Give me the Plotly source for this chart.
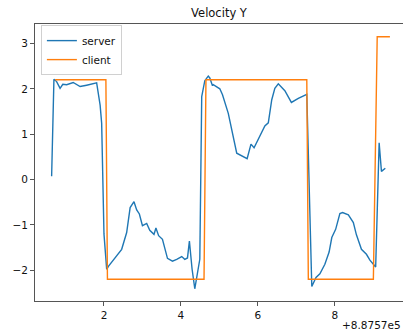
import plotly.graph_objects as go

OFFSET = 887570.0

server_t = [0.64, 0.70, 0.77, 0.86, 0.93, 1.03, 1.20, 1.38, 1.55, 1.81, 1.90, 1.94, 2.00, 2.07,
            2.12, 2.33, 2.46, 2.59, 2.68, 2.78, 2.85, 2.92, 3.00, 3.11, 3.19, 3.30, 3.35, 3.42,
            3.52, 3.65, 3.78, 3.89, 4.02, 4.10, 4.17, 4.22, 4.29, 4.36, 4.49, 4.54, 4.62, 4.71,
            4.75, 4.82, 4.84, 5.01, 5.08, 5.23, 5.36, 5.45, 5.72, 5.82, 5.90, 6.05, 6.18, 6.27,
            6.36, 6.44, 6.53, 6.70, 6.87, 7.05, 7.27, 7.40, 7.51, 7.61, 7.74, 7.85, 7.92, 8.02,
            8.13, 8.20, 8.35, 8.48, 8.56, 8.69, 8.82, 8.91, 9.01, 9.06, 9.15, 9.21, 9.31]
server_v = [0.07, 2.21, 2.16, 2.01, 2.10, 2.09, 2.14, 2.05, 2.08, 2.13, 1.64, 1.24, -1.20, -1.98,
            -1.91, -1.69, -1.54, -1.17, -0.62, -0.49, -0.67, -0.76, -1.02, -0.97, -1.12, -1.21, -1.07, -1.24,
            -1.32, -1.74, -1.80, -1.76, -1.70, -1.76, -1.73, -1.36, -1.98, -2.41, -1.76, 1.83, 2.18, 2.28,
            2.24, 2.07, 2.09, 2.00, 1.87, 1.46, 0.90, 0.58, 0.46, 0.78, 0.70, 0.94, 1.18, 1.25,
            1.76, 2.01, 2.11, 1.96, 1.70, 1.79, 1.88, -2.36, -2.16, -2.08, -1.87, -1.60, -1.28, -1.10,
            -0.75, -0.73, -0.78, -0.95, -1.22, -1.54, -1.65, -1.78, -1.87, -1.93, 0.81, 0.18, 0.25]

client_t = [0.73, 2.05, 2.09, 4.60, 4.65, 7.27, 7.31, 9.00, 9.10, 9.43]
client_v = [2.2, 2.2, -2.2, -2.2, 2.2, 2.2, -2.2, -2.2, 3.15, 3.15]

tick_vals = [2, 4, 6, 8]
tick_text = ["2", "4", "6", "8"]
y_ticks = [-2, -1, 0, 1, 2, 3]
y_text = ["\u22122", "\u22121", "0", "1", "2", "3"]

FONT = "DejaVu Sans"

fig = go.Figure()
fig.add_trace(go.Scatter(x=[OFFSET + t for t in server_t], y=server_v, mode="lines",
                         name="server", line=dict(color="#1f77b4", width=1.4)))
fig.add_trace(go.Scatter(x=[OFFSET + t for t in client_t], y=client_v, mode="lines",
                         name="client", line=dict(color="#ff7f0e", width=1.4)))

fig.update_layout(
    width=403, height=332,
    margin=dict(l=35, r=0, t=24, b=31, autoexpand=False),
    paper_bgcolor="white", plot_bgcolor="white",
    font=dict(family=FONT, size=10, color="#111"),
    title=dict(text="Velocity Y", x=219 / 403, xanchor="center",
               y=1 - 13 / 332, yanchor="middle", font=dict(size=11.5, color="#111")),
    showlegend=True,
    legend=dict(x=0.016, y=0.996, xanchor="left", yanchor="top",
                bgcolor="rgba(255,255,255,0.8)", bordercolor="#d0d0d0", borderwidth=1,
                font=dict(size=10.5), tracegroupgap=0, itemwidth=30),
    xaxis=dict(range=[OFFSET + 0.208, OFFSET + 9.77], tickvals=[OFFSET + v for v in tick_vals],
               ticktext=tick_text, showgrid=False, zeroline=False, showline=True, mirror=True,
               linecolor="#555", linewidth=1, ticks="outside", ticklen=4, tickcolor="#555",
               tickfont=dict(size=10.5)),
    yaxis=dict(range=[-2.68, 3.43], tickvals=y_ticks, ticktext=y_text, showgrid=False,
               zeroline=False, showline=True, mirror=False, linecolor="#555", linewidth=1,
               ticks="outside", ticklen=4, tickcolor="#555", tickfont=dict(size=10.5)),
)
fig.add_annotation(text="+8.8757e5", xref="paper", yref="paper", x=1.0, y=-24 / 277,
                   xanchor="right", yanchor="middle", showarrow=False, font=dict(size=10.5))

fig.write_html("out.html", config={"displayModeBar": False},
               post_script="document.body.style.margin='0px';document.body.style.padding='0px';")
